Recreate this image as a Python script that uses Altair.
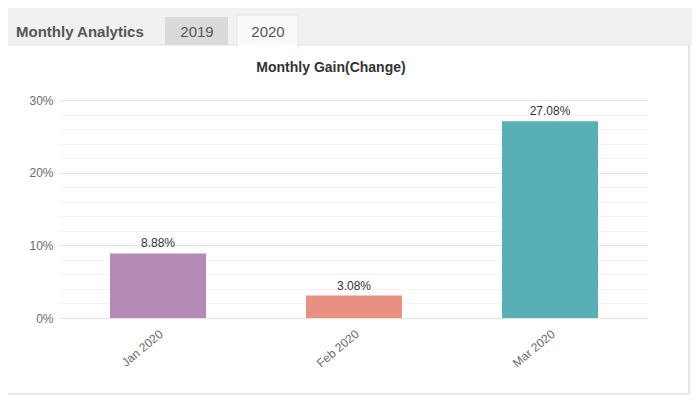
import altair as alt
import pandas as pd

months = ["Jan 2020", "Feb 2020", "Mar 2020"]
gains = [8.88, 3.08, 27.08]
colors = ["#b48ab5", "#e89182", "#58b0b6"]
label_texts = ["8.88%", "3.08%", "27.08%"]
y_grid_values = list(range(0, 31, 2))

FONT = "Liberation Sans"

df = pd.DataFrame({"Month": months, "Gain": gains, "Label": label_texts})
one = pd.DataFrame({"k": [0]})

x_enc = alt.X(
    "Month:N",
    sort=months,
    title=None,
    scale=alt.Scale(paddingInner=0.51, paddingOuter=0.255),
    axis=alt.Axis(
        labelAngle=-40,
        labelAlign="right",
        labelBaseline="top",
        labelPadding=10,
        labelColor="#6a6a6a",
        labelFontSize=12,
        labelFont=FONT,
        ticks=False,
        domain=False,
        grid=False,
    ),
)
y_enc = alt.Y(
    "Gain:Q",
    title=None,
    scale=alt.Scale(domain=[0, 30], nice=False),
    axis=alt.Axis(
        values=y_grid_values,
        labelExpr="datum.value % 10 === 0 ? datum.value + '%' : ''",
        labelColor="#6a6a6a",
        labelFontSize=12,
        labelFont=FONT,
        labelPadding=7,
        ticks=False,
        domain=False,
        grid=True,
        gridColor={"condition": {"test": "datum.value % 10 === 0", "value": "#e4e4e4"}, "value": "#f3f3f3"},
        gridWidth=1,
    ),
)

base = alt.Chart(df).encode(x=x_enc, y=y_enc)

bars = base.mark_bar(size=96).encode(
    color=alt.Color("Month:N", sort=months, scale=alt.Scale(domain=months, range=colors), legend=None),
)

values = base.mark_text(dy=-10, fontSize=12, color="#333333", font=FONT).encode(
    text="Label:N",
)

# page chrome: header band, tabs, card borders
band = alt.Chart(one).mark_rect(color="#f1f1f1").encode(
    x=alt.value(-52), x2=alt.value(632), y=alt.value(-92), y2=alt.value(-55)
)
band_line = alt.Chart(one).mark_rule(color="#e2e2e2").encode(
    x=alt.value(-52), x2=alt.value(632), y=alt.value(-55)
)
tab2019 = alt.Chart(one).mark_rect(color="#dadada").encode(
    x=alt.value(105), x2=alt.value(168), y=alt.value(-83), y2=alt.value(-55)
)
tab2020 = alt.Chart(one).mark_rect(color="#fafafa", stroke="#e6e6e6", strokeWidth=1).encode(
    x=alt.value(177), x2=alt.value(238), y=alt.value(-85), y2=alt.value(-53)
)
tab_cover = alt.Chart(one).mark_rect(color="#ffffff").encode(
    x=alt.value(178), x2=alt.value(237), y=alt.value(-56), y2=alt.value(-52)
)
header_text = alt.Chart(one).mark_text(
    text="Monthly Analytics", fontSize=15, fontWeight="bold", color="#555555", align="left", baseline="middle", font=FONT
).encode(x=alt.value(-44), y=alt.value(-68))
t2019 = alt.Chart(one).mark_text(
    text="2019", fontSize=15, color="#555555", align="center", baseline="middle", font=FONT
).encode(x=alt.value(137), y=alt.value(-68))
t2020 = alt.Chart(one).mark_text(
    text="2020", fontSize=15, color="#555555", align="center", baseline="middle", font=FONT
).encode(x=alt.value(208), y=alt.value(-68))
title = alt.Chart(one).mark_text(
    text="Monthly Gain(Change)", fontSize=14, fontWeight="bold", color="#333333", align="center", baseline="middle", font=FONT
).encode(x=alt.value(271), y=alt.value(-32))
right_border = alt.Chart(one).mark_rule(color="#e4e4e4", strokeWidth=2).encode(
    x=alt.value(629), y=alt.value(-55), y2=alt.value(295)
)
bottom_border = alt.Chart(one).mark_rule(color="#e8e8e8", strokeWidth=2).encode(
    x=alt.value(-52), x2=alt.value(630), y=alt.value(294)
)

chart = alt.layer(
    band, band_line, tab2019, tab2020, tab_cover, header_text, t2019, t2020, title,
    right_border, bottom_border, bars, values
).properties(
    width=588,
    height=218,
    autosize=alt.AutoSizeParams(type="none"),
    padding={"left": 52, "top": 92, "right": 44, "bottom": 78},
    background="#ffffff",
).configure_view(stroke=None)

chart.save("out.html", embed_options={"renderer": "svg", "actions": False})
